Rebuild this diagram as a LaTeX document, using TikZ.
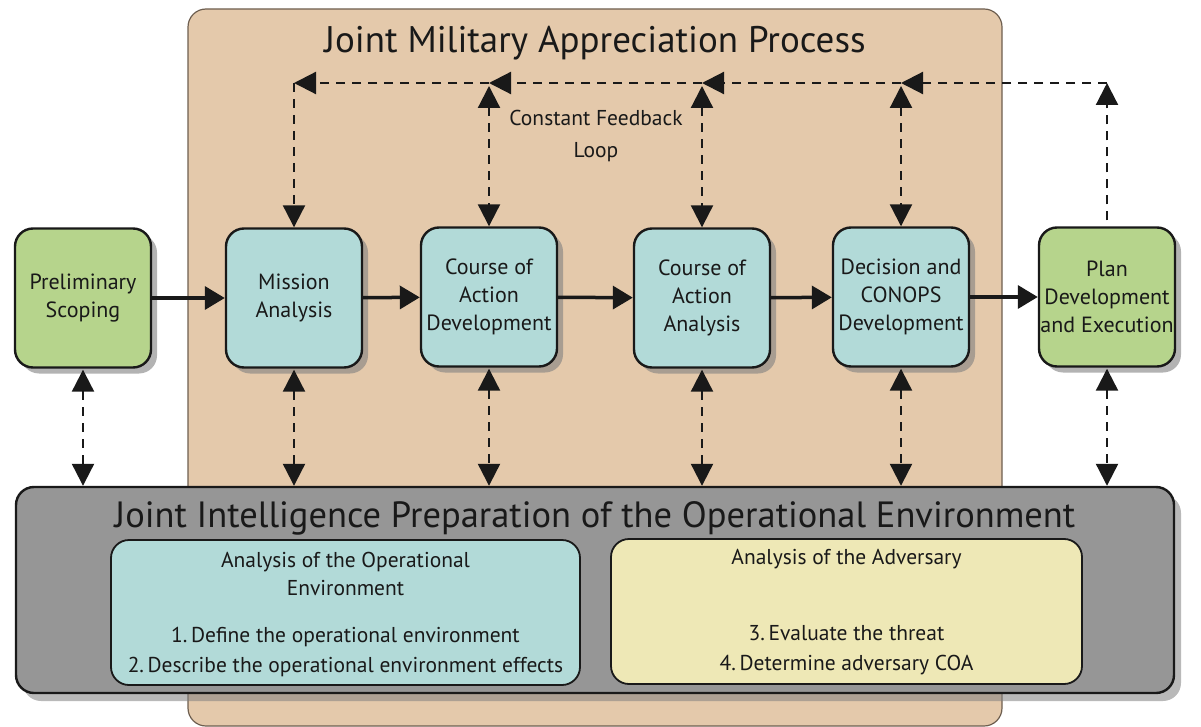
\documentclass[tikz,border=0pt]{standalone}
\usepackage{fontspec}
\setmainfont{PT Sans}
\usetikzlibrary{arrows.meta,shadows}

\definecolor{tanfill}{RGB}{228,201,171}
\definecolor{tanline}{RGB}{110,95,80}
\definecolor{tealfill}{RGB}{178,218,216}
\definecolor{greenfill}{RGB}{182,212,140}
\definecolor{greyfill}{RGB}{150,150,150}
\definecolor{sandfill}{RGB}{238,232,182}
\definecolor{inkcol}{RGB}{25,25,25}

\tikzset{every picture/.style={line width=0.75pt}}
\tikzset{
  stepbox/.style={draw=inkcol, line width=2.4pt, rounded corners=18pt, fill=tealfill,
    minimum width=136pt, minimum height=139pt, inner sep=0pt, align=center,
    text=inkcol, font=\fontsize{22}{28}\selectfont,
    drop shadow={shadow xshift=6pt, shadow yshift=-6pt, opacity=0.6}},
  endbox/.style={stepbox, fill=greenfill},
  flow/.style={line width=3.5pt, inkcol, -{Triangle[length=20pt,width=23pt]}},
  fback/.style={line width=2.2pt, inkcol, dash pattern=on 9pt off 7pt},
  fbone/.style={fback, -{Triangle[length=22pt,width=22pt]}},
  fbtwo/.style={fback, {Triangle[length=22pt,width=22pt]}-{Triangle[length=22pt,width=22pt]}},
}

\begin{document}
\begin{tikzpicture}[x=1pt,y=1pt,yscale=-1,xscale=1]
\useasboundingbox (0,0) rectangle (1201,727);

%Shape: Rounded Rect [JMAP]
\node [draw=tanline, line width=1.2pt, fill=tanfill, rounded corners=18pt, minimum width=814pt, minimum height=717pt] (jmap) at (595,367.5) {};
% Text Node
\node [anchor=base, text=inkcol, font=\fontsize{37}{40}\selectfont] (jmaptitle) at (595,53) {Joint Military Appreciation Process};
% Text Node
\node [align=center, text=inkcol, font=\fontsize{21.5}{32}\selectfont] (loop) at (596,136) {Constant Feedback\\Loop};

%Shape: Rounded Rect [JIPOE]
\node [draw=inkcol, line width=2.4pt, fill=greyfill, rounded corners=18pt, minimum width=1158pt, minimum height=206pt,
  drop shadow={shadow xshift=7pt, shadow yshift=-8pt, opacity=0.55}] (jipoe) at (595,590) {};
% Text Node
\node [anchor=base, text=inkcol, font=\fontsize{36.5}{44}\selectfont] (jipoetitle) at (595,527) {Joint Intelligence Preparation of the Operational Environment};
%Shape: Rounded Rect
\node [draw=inkcol, line width=1.8pt, fill=tealfill, rounded corners=18pt, minimum width=469pt, minimum height=145pt] (envbox) at (345.5,612.5) {};
\node [draw=inkcol, line width=1.8pt, fill=sandfill, rounded corners=18pt, minimum width=471pt, minimum height=145pt] (advbox) at (846.5,611.5) {};
% Text Node
\node [align=center, text=inkcol, font=\fontsize{21.5}{28}\selectfont] (envhead) at (345.5,574) {Analysis of the Operational\\Environment};
\node [align=center, text=inkcol, font=\fontsize{21.5}{30}\selectfont] (envlist) at (345.5,652) {1.\,Define the operational environment\\2.\,Describe the operational environment effects};
\node [align=center, text=inkcol, font=\fontsize{21.5}{28}\selectfont] (advhead) at (846.5,559) {Analysis of the Adversary};
\node [align=center, text=inkcol, font=\fontsize{21.5}{30}\selectfont] (advlist) at (846.5,650) {3.\,Evaluate the threat\\4.\,Determine adversary COA};

%Process steps
\node [endbox] (prelim) at (83,298) {Preliminary\\Scoping};
\node [stepbox] (mission) at (294,298) {Mission\\Analysis};
\node [stepbox] (coadev) at (489,297) {Course of\\Action\\Development};
\node [stepbox] (coaan) at (702,298) {Course of\\Action\\Analysis};
\node [stepbox] (decide) at (901,297) {Decision and\\CONOPS\\Development};
\node [endbox] (plan) at (1107,297) {Plan\\Development\\and Execution};

%Straight Lines
\draw [flow] (prelim) -- (mission);
\draw [flow] (mission) -- (coadev);
\draw [flow] (coadev) -- (coaan);
\draw [flow] (coaan) -- (decide);
\draw [flow] (decide) -- (plan);

%Feedback loop
\coordinate (fbA) at (294,83);
\coordinate (fbB) at (489,83);
\coordinate (fbC) at (702,83);
\coordinate (fbD) at (901,83);
\coordinate (fbE) at (1107,83);
\draw [fbone] (fbE) -- (fbD);
\draw [fbone] (fbD) -- (fbC);
\draw [fbone] (fbC) -- (fbB);
\draw [fbone] (fbB) -- (fbA);
\draw [fbone] (fbA) -- (mission.north);
\draw [fbtwo, shorten <=3pt] (fbB) -- (coadev.north);
\draw [fbtwo, shorten <=3pt] (fbC) -- (coaan.north);
\draw [fbtwo, shorten <=3pt] (fbD) -- (decide.north);
\draw [fbone, shorten <=6pt] (plan.north) -- (fbE);

%Links to JIPOE
\foreach \s in {prelim,mission,coadev,coaan,decide,plan}
  \draw [fbtwo, shorten <=1pt] (\s.south) -- (\s.south |- jipoe.north);

\end{tikzpicture}
\end{document}
